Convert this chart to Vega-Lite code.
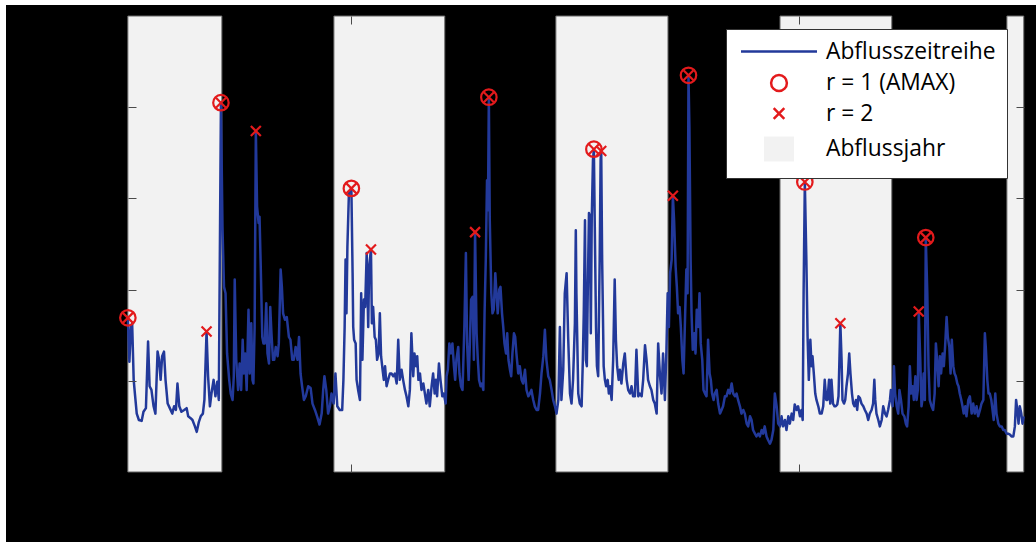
{
"$schema": "https://vega.github.io/schema/vega-lite/v6.json",
"width": 1030, "height": 537,
"autosize": {"type": "none"},
"padding": {"left": 6, "top": 5, "right": 0, "bottom": 0},
"background": "white",
"view": {"fill": "black", "stroke": null},
"datasets": {
"Jahre": [{"Beginn":0,"Ende":307},{"Beginn":673,"Ende":1035},{"Beginn":1398,"Ende":1764},{"Beginn":2130,"Ende":2495},{"Beginn":2871,"Ende":2926}],
"Spitzen": [
{"Tag":0,"Abfluss":1.69,"Rang":1},{"Tag":304,"Abfluss":4.05,"Rang":1},{"Tag":730,"Abfluss":3.11,"Rang":1},{"Tag":1179,"Abfluss":4.11,"Rang":1},{"Tag":1522,"Abfluss":3.54,"Rang":1},{"Tag":1831,"Abfluss":4.35,"Rang":1},{"Tag":2211,"Abfluss":3.18,"Rang":1},{"Tag":2606,"Abfluss":2.57,"Rang":1},
{"Tag":257,"Abfluss":1.54,"Rang":2},{"Tag":418,"Abfluss":3.74,"Rang":2},{"Tag":794,"Abfluss":2.44,"Rang":2},{"Tag":1134,"Abfluss":2.63,"Rang":2},{"Tag":1546,"Abfluss":3.52,"Rang":2},{"Tag":1780,"Abfluss":3.03,"Rang":2},{"Tag":2327,"Abfluss":1.63,"Rang":2},{"Tag":2583,"Abfluss":1.76,"Rang":2}],
"Legende": [{"Eintrag":"Abflusszeitreihe"},{"Eintrag":"r = 1 (AMAX)"},{"Eintrag":"r = 2"},{"Eintrag":"Abflussjahr"}],
"Abfluss": [
{"Tag":0,"Abfluss":1.69},{"Tag":5,"Abfluss":1.21},{"Tag":10,"Abfluss":1.59},{"Tag":14,"Abfluss":1.63},{"Tag":19,"Abfluss":1.01},{"Tag":23,"Abfluss":0.86},{"Tag":29,"Abfluss":0.64},{"Tag":36,"Abfluss":0.57},{"Tag":45,"Abfluss":0.56},{"Tag":51,"Abfluss":0.66},{"Tag":59,"Abfluss":0.70},{"Tag":66,"Abfluss":1.43},{"Tag":71,"Abfluss":0.94},{"Tag":77,"Abfluss":0.90},{"Tag":84,"Abfluss":0.72},{"Tag":90,"Abfluss":0.64},{"Tag":97,"Abfluss":1.32},{"Tag":102,"Abfluss":1.23},{"Tag":107,"Abfluss":1.01},{"Tag":112,"Abfluss":1.27},{"Tag":118,"Abfluss":1.32},{"Tag":123,"Abfluss":1.01},{"Tag":130,"Abfluss":0.75},{"Tag":137,"Abfluss":0.70},{"Tag":145,"Abfluss":0.64},{"Tag":151,"Abfluss":0.72},{"Tag":157,"Abfluss":0.68},{"Tag":162,"Abfluss":0.97},{"Tag":168,"Abfluss":0.72},{"Tag":175,"Abfluss":0.66},{"Tag":184,"Abfluss":0.68},{"Tag":192,"Abfluss":0.70},{"Tag":197,"Abfluss":0.61},{"Tag":205,"Abfluss":0.59},{"Tag":211,"Abfluss":0.57},{"Tag":219,"Abfluss":0.50},{"Tag":225,"Abfluss":0.44},{"Tag":232,"Abfluss":0.55},{"Tag":238,"Abfluss":0.61},{"Tag":245,"Abfluss":0.64},{"Tag":250,"Abfluss":0.79},{"Tag":257,"Abfluss":1.54},{"Tag":262,"Abfluss":1.05},{"Tag":268,"Abfluss":0.72},{"Tag":273,"Abfluss":0.86},{"Tag":280,"Abfluss":1.01},{"Tag":286,"Abfluss":0.83},{"Tag":292,"Abfluss":0.99},{"Tag":297,"Abfluss":0.79},{"Tag":304,"Abfluss":4.05},{"Tag":309,"Abfluss":2.69},{"Tag":314,"Abfluss":2.03},{"Tag":319,"Abfluss":1.96},{"Tag":324,"Abfluss":1.30},{"Tag":331,"Abfluss":1.01},{"Tag":336,"Abfluss":0.86},{"Tag":342,"Abfluss":0.79},{"Tag":346,"Abfluss":1.05},{"Tag":349,"Abfluss":2.11},{"Tag":354,"Abfluss":1.23},{"Tag":360,"Abfluss":0.90},{"Tag":365,"Abfluss":1.19},{"Tag":370,"Abfluss":0.90},{"Tag":375,"Abfluss":1.45},{"Tag":379,"Abfluss":1.08},{"Tag":383,"Abfluss":1.30},{"Tag":388,"Abfluss":0.90},{"Tag":394,"Abfluss":1.78},{"Tag":398,"Abfluss":1.08},{"Tag":403,"Abfluss":1.63},{"Tag":407,"Abfluss":1.01},{"Tag":410,"Abfluss":0.97},{"Tag":414,"Abfluss":1.59},{"Tag":418,"Abfluss":3.74},{"Tag":422,"Abfluss":2.91},{"Tag":427,"Abfluss":2.73},{"Tag":430,"Abfluss":2.80},{"Tag":434,"Abfluss":2.25},{"Tag":439,"Abfluss":1.48},{"Tag":443,"Abfluss":1.41},{"Tag":447,"Abfluss":1.41},{"Tag":452,"Abfluss":1.85},{"Tag":456,"Abfluss":1.30},{"Tag":461,"Abfluss":1.19},{"Tag":465,"Abfluss":1.81},{"Tag":469,"Abfluss":1.52},{"Tag":474,"Abfluss":1.23},{"Tag":478,"Abfluss":1.23},{"Tag":483,"Abfluss":1.37},{"Tag":489,"Abfluss":1.27},{"Tag":493,"Abfluss":1.41},{"Tag":499,"Abfluss":2.22},{"Tag":503,"Abfluss":2.03},{"Tag":507,"Abfluss":1.74},{"Tag":513,"Abfluss":1.67},{"Tag":519,"Abfluss":1.70},{"Tag":526,"Abfluss":1.48},{"Tag":531,"Abfluss":1.45},{"Tag":537,"Abfluss":1.23},{"Tag":542,"Abfluss":1.23},{"Tag":548,"Abfluss":1.37},{"Tag":554,"Abfluss":1.23},{"Tag":559,"Abfluss":1.48},{"Tag":564,"Abfluss":1.08},{"Tag":569,"Abfluss":0.94},{"Tag":575,"Abfluss":0.79},{"Tag":581,"Abfluss":0.83},{"Tag":589,"Abfluss":0.94},{"Tag":597,"Abfluss":0.92},{"Tag":603,"Abfluss":0.75},{"Tag":611,"Abfluss":0.68},{"Tag":618,"Abfluss":0.61},{"Tag":626,"Abfluss":0.52},{"Tag":633,"Abfluss":0.64},{"Tag":638,"Abfluss":0.90},{"Tag":642,"Abfluss":1.05},{"Tag":648,"Abfluss":0.90},{"Tag":654,"Abfluss":0.64},{"Tag":660,"Abfluss":0.72},{"Tag":665,"Abfluss":0.86},{"Tag":672,"Abfluss":0.75},{"Tag":678,"Abfluss":1.08},{"Tag":684,"Abfluss":0.72},{"Tag":692,"Abfluss":0.68},{"Tag":700,"Abfluss":0.68},{"Tag":704,"Abfluss":1.01},{"Tag":708,"Abfluss":1.59},{"Tag":711,"Abfluss":2.33},{"Tag":714,"Abfluss":1.74},{"Tag":717,"Abfluss":2.47},{"Tag":722,"Abfluss":3.06},
{"Tag":730,"Abfluss":3.11},{"Tag":734,"Abfluss":2.18},{"Tag":736,"Abfluss":1.59},{"Tag":739,"Abfluss":1.45},{"Tag":744,"Abfluss":1.41},{"Tag":747,"Abfluss":1.01},{"Tag":752,"Abfluss":0.90},{"Tag":758,"Abfluss":0.79},{"Tag":762,"Abfluss":1.96},{"Tag":766,"Abfluss":1.23},{"Tag":771,"Abfluss":1.89},{"Tag":775,"Abfluss":1.81},{"Tag":780,"Abfluss":2.40},{"Tag":785,"Abfluss":1.59},{"Tag":788,"Abfluss":2.25},{"Tag":794,"Abfluss":2.44},{"Tag":797,"Abfluss":1.63},{"Tag":801,"Abfluss":1.81},{"Tag":806,"Abfluss":1.48},{"Tag":810,"Abfluss":1.45},{"Tag":814,"Abfluss":1.23},{"Tag":819,"Abfluss":1.30},{"Tag":823,"Abfluss":1.74},{"Tag":827,"Abfluss":1.27},{"Tag":832,"Abfluss":1.12},{"Tag":836,"Abfluss":1.01},{"Tag":840,"Abfluss":1.16},{"Tag":845,"Abfluss":0.94},{"Tag":850,"Abfluss":1.01},{"Tag":856,"Abfluss":1.08},{"Tag":861,"Abfluss":1.08},{"Tag":867,"Abfluss":1.05},{"Tag":872,"Abfluss":1.08},{"Tag":878,"Abfluss":0.97},{"Tag":883,"Abfluss":1.45},{"Tag":888,"Abfluss":1.01},{"Tag":894,"Abfluss":1.12},{"Tag":899,"Abfluss":1.01},{"Tag":905,"Abfluss":0.90},{"Tag":910,"Abfluss":0.83},{"Tag":916,"Abfluss":0.72},{"Tag":921,"Abfluss":0.90},{"Tag":926,"Abfluss":1.52},{"Tag":932,"Abfluss":1.05},{"Tag":936,"Abfluss":1.30},{"Tag":941,"Abfluss":1.16},{"Tag":945,"Abfluss":1.27},{"Tag":949,"Abfluss":1.01},{"Tag":954,"Abfluss":1.08},{"Tag":959,"Abfluss":0.90},{"Tag":965,"Abfluss":0.97},{"Tag":970,"Abfluss":0.86},{"Tag":975,"Abfluss":0.75},{"Tag":981,"Abfluss":0.90},{"Tag":986,"Abfluss":0.72},{"Tag":992,"Abfluss":0.94},{"Tag":997,"Abfluss":1.08},{"Tag":1002,"Abfluss":0.86},{"Tag":1006,"Abfluss":1.01},{"Tag":1010,"Abfluss":0.83},{"Tag":1016,"Abfluss":1.19},{"Tag":1021,"Abfluss":1.01},{"Tag":1027,"Abfluss":0.83},{"Tag":1032,"Abfluss":0.86},{"Tag":1038,"Abfluss":0.75},{"Tag":1041,"Abfluss":1.05},{"Tag":1045,"Abfluss":1.12},{"Tag":1050,"Abfluss":1.41},{"Tag":1055,"Abfluss":1.30},{"Tag":1060,"Abfluss":1.41},{"Tag":1065,"Abfluss":1.16},{"Tag":1069,"Abfluss":1.01},{"Tag":1073,"Abfluss":1.23},{"Tag":1079,"Abfluss":1.37},{"Tag":1083,"Abfluss":1.08},{"Tag":1088,"Abfluss":0.94},{"Tag":1093,"Abfluss":0.90},{"Tag":1099,"Abfluss":1.59},{"Tag":1104,"Abfluss":2.40},{"Tag":1108,"Abfluss":1.41},{"Tag":1113,"Abfluss":1.01},{"Tag":1117,"Abfluss":1.41},{"Tag":1121,"Abfluss":1.89},{"Tag":1126,"Abfluss":1.92},{"Tag":1130,"Abfluss":1.23},{"Tag":1134,"Abfluss":2.63},{"Tag":1139,"Abfluss":1.52},{"Tag":1143,"Abfluss":1.23},{"Tag":1147,"Abfluss":1.01},{"Tag":1152,"Abfluss":0.94},{"Tag":1156,"Abfluss":0.97},{"Tag":1161,"Abfluss":0.90},{"Tag":1165,"Abfluss":1.74},{"Tag":1169,"Abfluss":2.33},{"Tag":1173,"Abfluss":3.20},{"Tag":1176,"Abfluss":2.87},{"Tag":1179,"Abfluss":4.11},{"Tag":1182,"Abfluss":2.76},{"Tag":1187,"Abfluss":1.96},{"Tag":1191,"Abfluss":1.74},{"Tag":1195,"Abfluss":1.78},{"Tag":1200,"Abfluss":2.18},{"Tag":1204,"Abfluss":1.96},{"Tag":1208,"Abfluss":1.74},{"Tag":1213,"Abfluss":2.00},{"Tag":1217,"Abfluss":2.03},{"Tag":1222,"Abfluss":1.74},{"Tag":1226,"Abfluss":1.59},{"Tag":1230,"Abfluss":1.41},{"Tag":1235,"Abfluss":1.30},{"Tag":1239,"Abfluss":1.52},{"Tag":1243,"Abfluss":1.23},{"Tag":1248,"Abfluss":1.12},{"Tag":1252,"Abfluss":1.05},{"Tag":1256,"Abfluss":1.30},{"Tag":1261,"Abfluss":1.52},{"Tag":1265,"Abfluss":1.48},{"Tag":1269,"Abfluss":1.30},{"Tag":1275,"Abfluss":1.08},{"Tag":1280,"Abfluss":1.16},{"Tag":1286,"Abfluss":1.01},{"Tag":1291,"Abfluss":0.97},{"Tag":1297,"Abfluss":1.12},{"Tag":1302,"Abfluss":0.90},{"Tag":1308,"Abfluss":0.83},{"Tag":1313,"Abfluss":0.86},{"Tag":1318,"Abfluss":0.90},{"Tag":1324,"Abfluss":0.79},{"Tag":1329,"Abfluss":0.72},{"Tag":1335,"Abfluss":0.68},{"Tag":1340,"Abfluss":0.68},{"Tag":1346,"Abfluss":0.86},{"Tag":1351,"Abfluss":1.08},{"Tag":1357,"Abfluss":1.27},{"Tag":1362,"Abfluss":1.56},{"Tag":1367,"Abfluss":1.23},{"Tag":1373,"Abfluss":1.05},{"Tag":1378,"Abfluss":1.01},{"Tag":1384,"Abfluss":0.90},{"Tag":1389,"Abfluss":0.79},{"Tag":1395,"Abfluss":0.72},{"Tag":1400,"Abfluss":0.64},{"Tag":1406,"Abfluss":0.79},{"Tag":1411,"Abfluss":1.59},{"Tag":1416,"Abfluss":0.79},{"Tag":1422,"Abfluss":1.12},{"Tag":1427,"Abfluss":1.96},{"Tag":1433,"Abfluss":2.18},{"Tag":1438,"Abfluss":1.48},{"Tag":1444,"Abfluss":0.86},{"Tag":1449,"Abfluss":0.75},{"Tag":1454,"Abfluss":1.01},{"Tag":1460,"Abfluss":1.63},
{"Tag":1463,"Abfluss":2.65},{"Tag":1465,"Abfluss":1.96},{"Tag":1471,"Abfluss":0.86},{"Tag":1476,"Abfluss":0.75},{"Tag":1482,"Abfluss":0.72},{"Tag":1486,"Abfluss":1.23},{"Tag":1489,"Abfluss":1.74},{"Tag":1493,"Abfluss":2.76},{"Tag":1496,"Abfluss":1.23},{"Tag":1499,"Abfluss":1.16},{"Tag":1502,"Abfluss":1.96},{"Tag":1506,"Abfluss":2.84},{"Tag":1509,"Abfluss":2.80},{"Tag":1512,"Abfluss":1.52},{"Tag":1515,"Abfluss":2.76},{"Tag":1519,"Abfluss":3.42},{"Tag":1522,"Abfluss":3.54},{"Tag":1525,"Abfluss":2.69},{"Tag":1529,"Abfluss":1.59},{"Tag":1532,"Abfluss":1.16},{"Tag":1536,"Abfluss":1.05},{"Tag":1541,"Abfluss":2.33},{"Tag":1544,"Abfluss":3.42},{"Tag":1546,"Abfluss":3.52},{"Tag":1549,"Abfluss":2.33},{"Tag":1554,"Abfluss":1.16},{"Tag":1558,"Abfluss":1.01},{"Tag":1562,"Abfluss":0.94},{"Tag":1567,"Abfluss":1.01},{"Tag":1571,"Abfluss":0.86},{"Tag":1575,"Abfluss":0.94},{"Tag":1580,"Abfluss":0.79},{"Tag":1585,"Abfluss":1.23},{"Tag":1590,"Abfluss":2.11},{"Tag":1594,"Abfluss":1.45},{"Tag":1598,"Abfluss":1.16},{"Tag":1603,"Abfluss":1.01},{"Tag":1607,"Abfluss":1.12},{"Tag":1612,"Abfluss":0.97},{"Tag":1618,"Abfluss":1.19},{"Tag":1623,"Abfluss":1.30},{"Tag":1629,"Abfluss":1.01},{"Tag":1634,"Abfluss":0.90},{"Tag":1640,"Abfluss":0.86},{"Tag":1645,"Abfluss":0.94},{"Tag":1650,"Abfluss":0.83},{"Tag":1656,"Abfluss":0.83},{"Tag":1661,"Abfluss":1.34},{"Tag":1667,"Abfluss":0.83},{"Tag":1672,"Abfluss":0.86},{"Tag":1678,"Abfluss":0.83},{"Tag":1683,"Abfluss":1.01},{"Tag":1689,"Abfluss":1.39},{"Tag":1694,"Abfluss":1.23},{"Tag":1699,"Abfluss":1.01},{"Tag":1705,"Abfluss":0.94},{"Tag":1710,"Abfluss":0.90},{"Tag":1716,"Abfluss":0.79},{"Tag":1721,"Abfluss":0.75},{"Tag":1727,"Abfluss":0.64},{"Tag":1732,"Abfluss":1.41},{"Tag":1738,"Abfluss":1.05},{"Tag":1743,"Abfluss":0.86},{"Tag":1748,"Abfluss":1.30},{"Tag":1754,"Abfluss":0.79},{"Tag":1759,"Abfluss":1.34},{"Tag":1763,"Abfluss":1.96},{"Tag":1767,"Abfluss":1.59},{"Tag":1771,"Abfluss":2.18},{"Tag":1776,"Abfluss":2.33},{"Tag":1780,"Abfluss":3.03},{"Tag":1784,"Abfluss":2.76},{"Tag":1789,"Abfluss":2.25},{"Tag":1793,"Abfluss":2.03},{"Tag":1797,"Abfluss":1.74},{"Tag":1802,"Abfluss":1.81},{"Tag":1806,"Abfluss":1.59},{"Tag":1811,"Abfluss":1.23},{"Tag":1815,"Abfluss":1.08},{"Tag":1819,"Abfluss":1.59},{"Tag":1824,"Abfluss":2.22},{"Tag":1828,"Abfluss":1.96},{"Tag":1831,"Abfluss":4.35},{"Tag":1834,"Abfluss":3.79},{"Tag":1838,"Abfluss":2.33},{"Tag":1841,"Abfluss":1.74},{"Tag":1845,"Abfluss":1.34},{"Tag":1850,"Abfluss":1.52},{"Tag":1854,"Abfluss":1.30},{"Tag":1858,"Abfluss":1.78},{"Tag":1863,"Abfluss":1.59},{"Tag":1867,"Abfluss":1.96},{"Tag":1871,"Abfluss":1.41},{"Tag":1876,"Abfluss":1.23},{"Tag":1880,"Abfluss":0.90},{"Tag":1885,"Abfluss":0.86},{"Tag":1890,"Abfluss":0.83},{"Tag":1895,"Abfluss":1.45},{"Tag":1900,"Abfluss":1.08},{"Tag":1904,"Abfluss":1.01},{"Tag":1908,"Abfluss":0.86},{"Tag":1913,"Abfluss":0.79},{"Tag":1917,"Abfluss":0.86},{"Tag":1923,"Abfluss":0.90},{"Tag":1928,"Abfluss":0.75},{"Tag":1934,"Abfluss":0.64},{"Tag":1939,"Abfluss":0.68},{"Tag":1944,"Abfluss":0.72},{"Tag":1950,"Abfluss":0.83},{"Tag":1955,"Abfluss":0.83},{"Tag":1961,"Abfluss":0.90},{"Tag":1966,"Abfluss":0.86},{"Tag":1972,"Abfluss":0.97},{"Tag":1977,"Abfluss":0.86},{"Tag":1983,"Abfluss":0.83},{"Tag":1988,"Abfluss":0.86},{"Tag":1993,"Abfluss":0.79},{"Tag":1999,"Abfluss":0.72},{"Tag":2004,"Abfluss":0.64},{"Tag":2010,"Abfluss":0.68},{"Tag":2015,"Abfluss":0.64},{"Tag":2021,"Abfluss":0.53},{"Tag":2026,"Abfluss":0.50},{"Tag":2032,"Abfluss":0.61},{"Tag":2037,"Abfluss":0.57},{"Tag":2042,"Abfluss":0.46},{"Tag":2048,"Abfluss":0.42},{"Tag":2053,"Abfluss":0.39},{"Tag":2059,"Abfluss":0.42},{"Tag":2064,"Abfluss":0.39},{"Tag":2070,"Abfluss":0.46},{"Tag":2075,"Abfluss":0.42},{"Tag":2080,"Abfluss":0.50},{"Tag":2086,"Abfluss":0.39},{"Tag":2091,"Abfluss":0.35},{"Tag":2097,"Abfluss":0.31},{"Tag":2102,"Abfluss":0.35},{"Tag":2108,"Abfluss":0.46},{"Tag":2113,"Abfluss":0.86},{"Tag":2119,"Abfluss":0.72},{"Tag":2124,"Abfluss":0.53},{"Tag":2130,"Abfluss":0.50},{"Tag":2135,"Abfluss":0.61},{"Tag":2140,"Abfluss":0.50},{"Tag":2146,"Abfluss":0.57},{"Tag":2151,"Abfluss":0.46},{"Tag":2157,"Abfluss":0.61},{"Tag":2162,"Abfluss":0.53},{"Tag":2168,"Abfluss":0.64},{"Tag":2173,"Abfluss":0.57},{"Tag":2178,"Abfluss":0.74},{"Tag":2184,"Abfluss":0.68},{"Tag":2189,"Abfluss":0.72},{"Tag":2195,"Abfluss":0.61},{"Tag":2200,"Abfluss":0.68},
{"Tag":2204,"Abfluss":0.57},{"Tag":2207,"Abfluss":1.96},{"Tag":2211,"Abfluss":3.18},{"Tag":2216,"Abfluss":2.33},{"Tag":2220,"Abfluss":1.48},{"Tag":2224,"Abfluss":1.01},{"Tag":2229,"Abfluss":1.45},{"Tag":2233,"Abfluss":1.16},{"Tag":2236,"Abfluss":1.27},{"Tag":2241,"Abfluss":1.05},{"Tag":2245,"Abfluss":0.86},{"Tag":2249,"Abfluss":0.79},{"Tag":2255,"Abfluss":0.72},{"Tag":2260,"Abfluss":0.64},{"Tag":2266,"Abfluss":0.64},{"Tag":2271,"Abfluss":0.72},{"Tag":2276,"Abfluss":1.01},{"Tag":2281,"Abfluss":0.79},{"Tag":2285,"Abfluss":0.79},{"Tag":2290,"Abfluss":1.01},{"Tag":2294,"Abfluss":0.75},{"Tag":2298,"Abfluss":1.01},{"Tag":2303,"Abfluss":0.75},{"Tag":2308,"Abfluss":0.72},{"Tag":2312,"Abfluss":0.72},{"Tag":2317,"Abfluss":0.74},{"Tag":2321,"Abfluss":0.83},{"Tag":2327,"Abfluss":1.63},{"Tag":2331,"Abfluss":1.23},{"Tag":2334,"Abfluss":0.79},{"Tag":2339,"Abfluss":0.75},{"Tag":2343,"Abfluss":0.79},{"Tag":2347,"Abfluss":0.94},{"Tag":2352,"Abfluss":1.08},{"Tag":2356,"Abfluss":1.30},{"Tag":2360,"Abfluss":1.08},{"Tag":2365,"Abfluss":0.86},{"Tag":2369,"Abfluss":0.75},{"Tag":2373,"Abfluss":0.72},{"Tag":2378,"Abfluss":0.79},{"Tag":2382,"Abfluss":0.68},{"Tag":2386,"Abfluss":0.83},{"Tag":2391,"Abfluss":0.81},{"Tag":2396,"Abfluss":0.75},{"Tag":2402,"Abfluss":0.72},{"Tag":2407,"Abfluss":0.68},{"Tag":2413,"Abfluss":0.64},{"Tag":2418,"Abfluss":0.57},{"Tag":2423,"Abfluss":0.64},{"Tag":2429,"Abfluss":0.68},{"Tag":2434,"Abfluss":0.75},{"Tag":2438,"Abfluss":1.01},{"Tag":2441,"Abfluss":0.79},{"Tag":2445,"Abfluss":0.64},{"Tag":2451,"Abfluss":0.57},{"Tag":2456,"Abfluss":0.50},{"Tag":2462,"Abfluss":0.57},{"Tag":2467,"Abfluss":0.72},{"Tag":2473,"Abfluss":0.64},{"Tag":2478,"Abfluss":0.61},{"Tag":2483,"Abfluss":0.68},{"Tag":2489,"Abfluss":0.79},{"Tag":2492,"Abfluss":0.90},{"Tag":2498,"Abfluss":0.72},{"Tag":2502,"Abfluss":1.16},{"Tag":2506,"Abfluss":0.86},{"Tag":2511,"Abfluss":0.72},{"Tag":2516,"Abfluss":0.64},{"Tag":2520,"Abfluss":0.90},{"Tag":2525,"Abfluss":0.79},{"Tag":2530,"Abfluss":0.64},{"Tag":2536,"Abfluss":0.61},{"Tag":2541,"Abfluss":0.53},{"Tag":2545,"Abfluss":0.50},{"Tag":2550,"Abfluss":0.72},{"Tag":2554,"Abfluss":1.16},{"Tag":2558,"Abfluss":0.86},{"Tag":2563,"Abfluss":0.94},{"Tag":2567,"Abfluss":0.79},{"Tag":2572,"Abfluss":1.05},{"Tag":2576,"Abfluss":0.79},{"Tag":2580,"Abfluss":0.90},{"Tag":2583,"Abfluss":1.76},{"Tag":2588,"Abfluss":1.23},{"Tag":2592,"Abfluss":0.72},{"Tag":2595,"Abfluss":0.79},{"Tag":2599,"Abfluss":1.08},{"Tag":2603,"Abfluss":0.79},{"Tag":2606,"Abfluss":2.57},{"Tag":2611,"Abfluss":1.96},{"Tag":2615,"Abfluss":1.16},{"Tag":2619,"Abfluss":0.79},{"Tag":2625,"Abfluss":0.72},{"Tag":2630,"Abfluss":0.68},{"Tag":2635,"Abfluss":0.86},{"Tag":2639,"Abfluss":1.41},{"Tag":2643,"Abfluss":1.23},{"Tag":2648,"Abfluss":0.94},{"Tag":2652,"Abfluss":1.27},{"Tag":2656,"Abfluss":1.08},{"Tag":2661,"Abfluss":1.30},{"Tag":2665,"Abfluss":1.16},{"Tag":2669,"Abfluss":1.37},{"Tag":2674,"Abfluss":1.70},{"Tag":2678,"Abfluss":1.48},{"Tag":2683,"Abfluss":1.37},{"Tag":2687,"Abfluss":1.08},{"Tag":2691,"Abfluss":1.45},{"Tag":2696,"Abfluss":1.16},{"Tag":2700,"Abfluss":1.08},{"Tag":2704,"Abfluss":1.05},{"Tag":2709,"Abfluss":0.97},{"Tag":2713,"Abfluss":0.94},{"Tag":2717,"Abfluss":0.86},{"Tag":2722,"Abfluss":0.79},{"Tag":2726,"Abfluss":0.72},{"Tag":2730,"Abfluss":0.64},{"Tag":2735,"Abfluss":0.72},{"Tag":2739,"Abfluss":0.61},{"Tag":2745,"Abfluss":0.79},{"Tag":2750,"Abfluss":0.83},{"Tag":2756,"Abfluss":0.64},{"Tag":2761,"Abfluss":0.75},{"Tag":2766,"Abfluss":0.64},{"Tag":2772,"Abfluss":0.72},{"Tag":2777,"Abfluss":0.61},{"Tag":2783,"Abfluss":0.68},{"Tag":2788,"Abfluss":0.75},{"Tag":2794,"Abfluss":0.79},{"Tag":2799,"Abfluss":1.52},{"Tag":2802,"Abfluss":1.37},{"Tag":2807,"Abfluss":1.01},{"Tag":2811,"Abfluss":0.86},{"Tag":2815,"Abfluss":0.86},{"Tag":2820,"Abfluss":0.79},{"Tag":2824,"Abfluss":0.68},{"Tag":2828,"Abfluss":0.57},{"Tag":2833,"Abfluss":0.86},{"Tag":2837,"Abfluss":0.64},{"Tag":2843,"Abfluss":0.53},{"Tag":2848,"Abfluss":0.50},{"Tag":2854,"Abfluss":0.50},{"Tag":2859,"Abfluss":0.46},{"Tag":2864,"Abfluss":0.46},{"Tag":2870,"Abfluss":0.42},{"Tag":2875,"Abfluss":0.42},{"Tag":2881,"Abfluss":0.41},{"Tag":2886,"Abfluss":0.39},{"Tag":2892,"Abfluss":0.39},{"Tag":2897,"Abfluss":0.50},{"Tag":2901,"Abfluss":0.79},{"Tag":2905,"Abfluss":0.68},{"Tag":2909,"Abfluss":0.53},{"Tag":2913,"Abfluss":0.72},{"Tag":2918,"Abfluss":0.64},{"Tag":2922,"Abfluss":0.53},{"Tag":2926,"Abfluss":0.61}
]
},
"layer": [
{
"data": {"name": "Jahre"},
"mark": {"type": "rect", "fill": "#f2f2f2", "stroke": "#6e6e6e", "strokeWidth": 1},
"encoding": {
"x": {"field": "Beginn", "type": "quantitative", "scale": {"domain": [-398, 2966], "nice": false, "zero": false}, "axis": null},
"x2": {"field": "Ende"},
"y": {"datum": 0, "type": "quantitative", "scale": {"domain": [-0.768, 5.121], "nice": false, "zero": false}, "axis": null},
"y2": {"datum": 5}
}
},
{
"data": {"name": "Abfluss"},
"mark": {"type": "line", "color": "#22399a", "strokeWidth": 2.5, "strokeJoin": "round"},
"encoding": {
"x": {"field": "Tag", "type": "quantitative", "axis": {"orient": "bottom", "offset": -70, "values": [730, 2191], "domain": false, "labels": false, "grid": false, "ticks": true, "tickSize": -8, "tickColor": "#4a4a4a", "tickWidth": 1, "title": null, "zindex": 2}},
"y": {"field": "Abfluss", "type": "quantitative", "axis": {"orient": "left", "offset": -122, "values": [1, 2, 3, 4], "domain": false, "labels": false, "grid": false, "ticks": true, "tickSize": -8, "tickColor": "#4a4a4a", "tickWidth": 1, "title": null, "zindex": 2}}
}
},
{
"data": {"name": "Spitzen"},
"transform": [{"filter": "datum.Rang == 1"}],
"mark": {"type": "point", "shape": "circle", "filled": false, "stroke": "#e31a1c", "strokeWidth": 2.2, "size": 240, "opacity": 1},
"encoding": {
"x": {"field": "Tag", "type": "quantitative", "axis": {"orient": "top", "offset": -11, "values": [730, 2191], "domain": false, "labels": false, "grid": false, "ticks": true, "tickSize": -8, "tickColor": "#4a4a4a", "tickWidth": 1, "title": null, "zindex": 2}},
"y": {"field": "Abfluss", "type": "quantitative", "axis": {"orient": "right", "offset": -12, "values": [1, 2, 3, 4], "domain": false, "labels": false, "grid": false, "ticks": true, "tickSize": -8, "tickColor": "#4a4a4a", "tickWidth": 1, "title": null, "zindex": 2}}
}
},
{
"data": {"name": "Spitzen"},
"mark": {"type": "point", "shape": "M-1,-1L1,1M-1,1L1,-1", "filled": false, "stroke": "#e31a1c", "strokeWidth": 2.2, "size": 100, "opacity": 1},
"encoding": {
"x": {"field": "Tag", "type": "quantitative", "axis": null},
"y": {"field": "Abfluss", "type": "quantitative", "axis": null}
}
},
{
"data": {"name": "Legende"},
"mark": {"type": "point", "opacity": 0, "strokeWidth": 2.5},
"encoding": {
"x": {"field": "Tag", "type": "quantitative", "axis": null},
"y": {"field": "Abfluss", "type": "quantitative", "axis": null},
"stroke": {
"field": "Eintrag", "type": "nominal",
"scale": {"domain": ["Abflusszeitreihe", "r = 1 (AMAX)", "r = 2", "Abflussjahr"], "range": ["#22399a", "#e31a1c", "#e31a1c", "transparent"]},
"legend": {"title": null, "orient": "none", "legendX": 720, "legendY": 24}
},
"fill": {
"field": "Eintrag", "type": "nominal",
"scale": {"domain": ["Abflusszeitreihe", "r = 1 (AMAX)", "r = 2", "Abflussjahr"], "range": ["transparent", "transparent", "transparent", "#f2f2f2"]},
"legend": {"title": null, "orient": "none", "legendX": 720, "legendY": 24}
},
"shape": {
"field": "Eintrag", "type": "nominal",
"scale": {"domain": ["Abflusszeitreihe", "r = 1 (AMAX)", "r = 2", "Abflussjahr"],
"range": ["M-3.8,0L3.8,0", "M-0.79,0A0.79,0.79,0,1,1,0.79,0A0.79,0.79,0,1,1,-0.79,0Z", "M-0.53,-0.53L0.53,0.53M-0.53,0.53L0.53,-0.53", "M-1.5,-1.25H1.5V1.25H-1.5Z"]},
"legend": {
"title": null, "orient": "none", "legendX": 720, "legendY": 24, "direction": "vertical",
"fillColor": "white", "strokeColor": "#333333", "padding": 11, "rowPadding": 5.5,
"labelFont": "Open Sans", "labelFontSize": 22.8, "labelColor": "black", "labelOffset": 35.5, "labelLimit": 400,
"symbolSize": 400, "symbolOffset": 30.5, "symbolStrokeWidth": 2.5, "symbolOpacity": 1
}
}
}
}
],
"resolve": {"axis": {"x": "independent", "y": "independent"}}
}
